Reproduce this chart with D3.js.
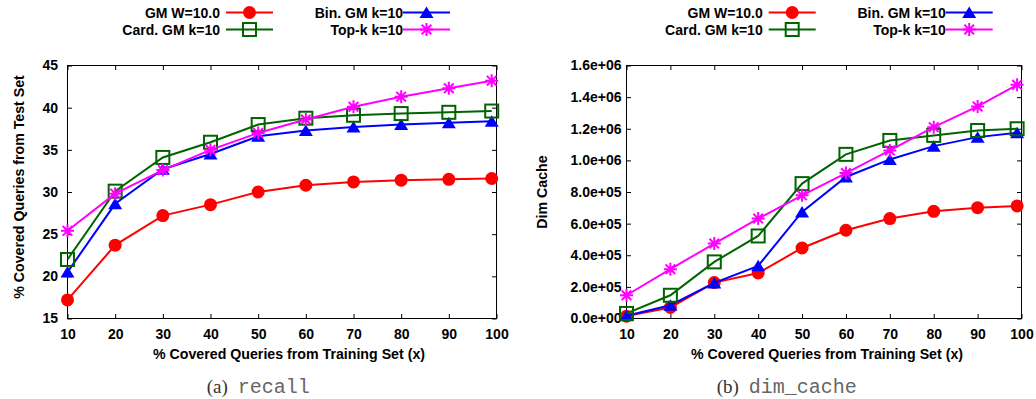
<!DOCTYPE html>
<html>
<head>
<meta charset="utf-8">
<script src="https://cdn.jsdelivr.net/npm/d3@7"></script>
<style>
  body { margin: 0; background: #fff; }
  svg { display: block; }
  text { font-family: "Liberation Sans", Arial, Helvetica, sans-serif; font-weight: bold; fill: #000; }
  text.caption { font-weight: normal; }
</style>
</head>
<body>
<svg id="fig" width="1036" height="399"></svg>
<script>
// data ----------------------------------
const xValues = [10, 20, 30, 40, 50, 60, 70, 80, 90, 99];
const xTicks = [10, 20, 30, 40, 50, 60, 70, 80, 90, 100];
const seriesNames = ['GM W=10.0', 'Bin. GM k=10', 'Card. GM k=10', 'Top-k k=10'];
const seriesColors = ['#ff0000', '#0000ff', '#006400', '#ff00ff'];
const seriesMarkers = ['circle', 'triangle', 'square', 'star'];

// (a) recall
const recallGM = [17.2, 23.7, 27.2, 28.5, 30.0, 30.8, 31.2, 31.4, 31.5, 31.6];
const recallBinGM = [20.5, 28.6, 32.7, 34.5, 36.6, 37.3, 37.7, 38.0, 38.2, 38.4];
const recallCardGM = [22.0, 30.1, 34.1, 35.9, 38.0, 38.75, 39.1, 39.3, 39.45, 39.6];
const recallTopK = [25.4, 29.8, 32.6, 35.0, 37.0, 38.6, 40.1, 41.3, 42.3, 43.2];
const recallTicks = [15, 20, 25, 30, 35, 40, 45];

// (b) dim_cache
const cacheGM = [15000, 70000, 227000, 288000, 446000, 558000, 632000, 678000, 701000, 712000];
const cacheBinGM = [17000, 84000, 225000, 333000, 674000, 895000, 1006000, 1090000, 1147000, 1175000];
const cacheCardGM = [32000, 147000, 358000, 522000, 853000, 1038000, 1126000, 1158000, 1189000, 1200000];
const cacheTopK = [147000, 312000, 474000, 632000, 779000, 920000, 1063000, 1210000, 1341000, 1478000];
const cacheTicks = [0, 200000, 400000, 600000, 800000, 1000000, 1200000, 1400000, 1600000];
// data end ----------------------------------

const svg = d3.select('#fig');

function sciFormat(v) {
  const parts = v.toExponential(1).split('e');
  const exp = parseInt(parts[1], 10);
  const sign = exp < 0 ? '-' : '+';
  return parts[0] + 'e' + sign + String(Math.abs(exp)).padStart(2, '0');
}

function marker(sel, type, color) {
  if (type === 'circle') {
    sel.append('circle').attr('r', 6.5).attr('fill', color);
  } else if (type === 'triangle') {
    sel.append('path').attr('d', 'M0,-6L7,5.5L-7,5.5Z').attr('fill', color);
  } else if (type === 'square') {
    sel.append('rect').attr('x', -6.5).attr('y', -6.5).attr('width', 13).attr('height', 13)
      .attr('fill', 'none').attr('stroke', color).attr('stroke-width', 2);
  } else {
    const s = 6.5, d = 4.8;
    sel.append('path')
      .attr('d', `M${-s},0L${s},0M0,${-s}L0,${s}M${-d},${-d}L${d},${d}M${-d},${d}L${d},${-d}`)
      .attr('stroke', color).attr('stroke-width', 2).attr('fill', 'none');
  }
}

function chart(cfg) {
  const top = 65.5, bottom = 318.5;
  const g = svg.append('g');
  const x = d3.scaleLinear().domain([10, 100]).range([cfg.left, cfg.right]);
  const y = d3.scaleLinear().domain(d3.extent(cfg.yTicks)).range([bottom, top]);

  const xAxis = d3.axisBottom(x).tickValues(xTicks).tickSizeInner(-4.5).tickSizeOuter(0).tickPadding(10.3);
  const yAxis = d3.axisLeft(y).tickValues(cfg.yTicks).tickSizeInner(-4.5).tickSizeOuter(0)
    .tickPadding(cfg.yPad).tickFormat(cfg.yFormat);
  const xTop = d3.axisTop(x).tickValues(xTicks).tickSizeInner(-4.5).tickSizeOuter(0).tickFormat('');
  const yRight = d3.axisRight(y).tickValues(cfg.yTicks).tickSizeInner(-4.5).tickSizeOuter(0).tickFormat('');

  const styleAxis = a => {
    a.select('.domain').remove();
    a.selectAll('line').attr('stroke', '#000');
    a.selectAll('text').attr('font-size', 14).attr('font-family', null).attr('fill', '#000');
  };
  g.append('g').attr('transform', `translate(0,${bottom})`).call(xAxis).call(styleAxis);
  g.append('g').attr('transform', `translate(${cfg.left},0)`).call(yAxis).call(styleAxis);
  g.append('g').attr('transform', `translate(0,${top})`).call(xTop).call(styleAxis);
  g.append('g').attr('transform', `translate(${cfg.right},0)`).call(yRight).call(styleAxis);

  g.append('rect')
    .attr('x', cfg.left).attr('y', top)
    .attr('width', cfg.right - cfg.left).attr('height', bottom - top)
    .attr('fill', 'none').attr('stroke', '#000').attr('stroke-width', 1);

  // series
  const line = d3.line().x((d, i) => x(xValues[i])).y(d => y(d));
  cfg.series.forEach((vals, k) => {
    g.append('path').datum(vals).attr('d', line)
      .attr('fill', 'none').attr('stroke', seriesColors[k]).attr('stroke-width', 2);
    vals.forEach((v, i) => {
      g.append('g').attr('transform', `translate(${x(xValues[i])},${y(v)})`)
        .call(marker, seriesMarkers[k], seriesColors[k]);
    });
  });

  // labels
  g.append('text')
    .attr('transform', `translate(${cfg.yLabelX},${cfg.yLabelY}) rotate(-90)`)
    .attr('text-anchor', 'middle').attr('font-size', 14.2).text(cfg.yLabel);
  g.append('text')
    .attr('x', cfg.xLabelX).attr('y', 358.5)
    .attr('text-anchor', 'middle').attr('font-size', 14.2)
    .text('% Covered Queries from Training Set (x)');

  // legend (gnuplot fills rows first)
  const cols = [cfg.legendX, cfg.legendX + 183];
  const rows = [12.5, 29.5];
  seriesNames.forEach((name, k) => {
    const cx = cols[k % 2], cy = rows[Math.floor(k / 2)];
    g.append('text').attr('x', cx).attr('y', cy + 5)
      .attr('text-anchor', 'end').attr('font-size', 14).text(name);
    const lx1 = cx + (k % 2 === 0 ? 6 : 0), lx2 = lx1 + 47;
    g.append('line').attr('x1', lx1).attr('x2', lx2).attr('y1', cy).attr('y2', cy)
      .attr('stroke', seriesColors[k]).attr('stroke-width', 2);
    g.append('g').attr('transform', `translate(${(lx1 + lx2) / 2},${cy})`)
      .call(marker, seriesMarkers[k], seriesColors[k]);
  });

  // caption
  const cap = g.append('text').attr('class', 'caption').attr('x', cfg.capX).attr('y', 392.5);
  cap.append('tspan').style('font-family', '"Liberation Serif", "Times New Roman", serif')
    .attr('font-size', 19).style('fill', '#333').text(cfg.capTag);
  cap.append('tspan').attr('dx', 10).style('font-family', '"Liberation Mono", "Courier New", monospace')
    .attr('font-size', 20).style('fill', '#666').text(cfg.capName);
}

chart({
  left: 67.5, right: 496.5,
  yTicks: recallTicks, yFormat: d3.format('d'), yPad: 9.5,
  series: [recallGM, recallBinGM, recallCardGM, recallTopK],
  yLabel: '% Covered Queries from Test Set', yLabelX: 23.5, yLabelY: 187,
  xLabelX: 289, legendX: 220,
  capX: 206.7, capTag: '(a)', capName: 'recall'
});

chart({
  left: 626.5, right: 1021.5,
  yTicks: cacheTicks, yFormat: sciFormat, yPad: 5,
  series: [cacheGM, cacheBinGM, cacheCardGM, cacheTopK],
  yLabel: 'Dim Cache', yLabelX: 547, yLabelY: 192,
  xLabelX: 827, legendX: 762.7,
  capX: 716.7, capTag: '(b)', capName: 'dim_cache'
});
</script>
</body>
</html>
